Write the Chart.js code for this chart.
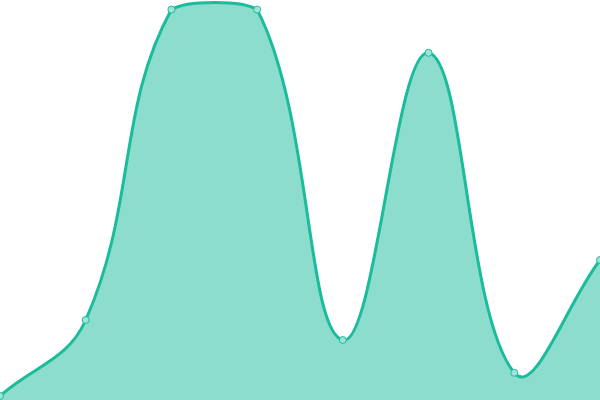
<!DOCTYPE html>
<html>
<head>
<meta charset="utf-8">
<script src="https://cdn.jsdelivr.net/npm/chart.js@4"></script>
<style>
  html, body { margin: 0; padding: 0; background: #fff; }
  #wrap { width: 600px; height: 400px; }
</style>
</head>
<body>
<div id="wrap"><canvas id="chart"></canvas></div>
<script>
// Datos
const labels = ['1', '2', '3', '4', '5', '6', '7', '8'];
const values = [1, 20, 97.6, 97.6, 15, 86.8, 6.8, 35];
const yMin = 0;
const yMax = 100;

const ctx = document.getElementById('chart').getContext('2d');
new Chart(ctx, {
    type: 'line',
    data: {
        labels: labels,
        datasets: [{
            data: values,
            borderColor: '#1abc9c',
            backgroundColor: 'rgba(26, 188, 156, 0.5)',
            borderWidth: 3,
            fill: true,
            tension: 0.4,
            pointRadius: 3.5,
            pointBorderWidth: 1,
            pointBackgroundColor: '#9fe4d6',
            pointBorderColor: '#1abc9c'
        }]
    },
    options: {
        responsive: true,
        maintainAspectRatio: false,
        animation: false,
        layout: { padding: 0, autoPadding: false },
        plugins: { legend: { display: false }, tooltip: { enabled: false } },
        scales: {
            x: { display: false },
            y: { display: false, min: yMin, max: yMax }
        }
    }
});
</script>
</body>
</html>
